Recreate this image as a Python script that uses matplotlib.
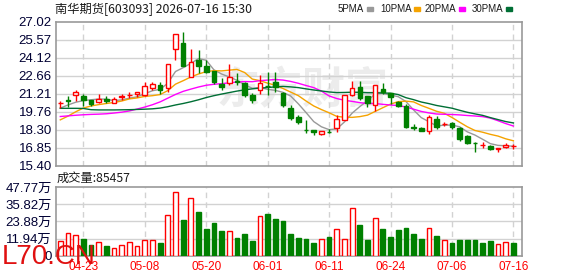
import matplotlib
matplotlib.use('Agg')
import matplotlib.pyplot as plt
import numpy as np

# ---------------- data ----------------
tick_pos = [3, 11, 19, 27, 35, 43, 51, 59]
tick_labels = ['04-23', '05-08', '05-20', '06-01', '06-11', '06-24', '07-06', '07-16']

opens = [20.45, 20.68, 21.08, 21.05, 20.67, 20.51, 20.78, 20.45, 20.96, 21.07,
         21.21, 21.13, 21.64, 21.94, 21.67, 24.83, 25.27, 22.55, 23.91, 23.42,
         23.02, 22.02, 22.05, 22.20, 22.05, 21.10, 21.51, 21.85, 22.18, 21.24,
         20.05, 19.29, 18.30, 18.30, 17.94, 18.12, 18.43, 19.10, 21.10, 21.75,
         21.02, 20.32, 21.62, 21.24, 20.55, 20.18, 18.51, 18.48, 18.24, 19.19,
         18.78, 18.83, 18.43, 17.81, 17.24, 17.08, 17.03, 16.78, 16.94, 16.97]
highs = [20.64, 21.05, 21.53, 21.21, 20.72, 21.21, 20.99, 20.97, 21.21, 21.37,
         21.37, 22.13, 22.18, 22.18, 23.61, 25.99, 26.15, 24.81, 24.70, 23.96,
         23.02, 22.48, 23.61, 22.86, 22.18, 21.24, 22.75, 22.96, 22.99, 21.37,
         20.32, 19.51, 19.05, 18.30, 18.19, 18.38, 19.51, 21.08, 22.26, 22.26,
         21.02, 21.91, 22.05, 21.29, 20.65, 20.40, 18.78, 18.51, 19.51, 19.38,
         18.94, 18.89, 18.51, 17.89, 17.35, 17.35, 17.08, 16.86, 17.21, 17.16]
lows = [20.05, 20.13, 20.60, 20.24, 20.18, 20.45, 20.45, 20.45, 20.72, 20.86,
        20.94, 21.05, 21.48, 21.21, 21.32, 23.91, 23.41, 22.55, 22.88, 22.88,
        21.99, 21.53, 21.91, 21.95, 20.97, 20.43, 21.20, 21.10, 21.37, 20.16,
        19.10, 18.78, 18.02, 17.89, 17.86, 18.02, 18.08, 19.05, 20.99, 20.72,
        20.13, 19.78, 21.21, 20.38, 20.10, 18.46, 18.30, 18.16, 17.97, 18.38,
        18.62, 18.40, 17.43, 17.16, 16.54, 16.80, 16.67, 16.48, 16.80, 16.78]
closes = [20.48, 20.65, 21.37, 20.72, 20.40, 20.78, 20.59, 20.78, 21.00, 21.10,
          21.32, 21.86, 21.99, 21.53, 23.61, 25.99, 23.41, 23.78, 23.42, 22.94,
          22.13, 21.72, 22.58, 22.13, 21.10, 20.70, 22.05, 21.80, 21.75, 20.30,
          19.22, 18.89, 18.28, 18.10, 18.19, 18.10, 19.16, 21.08, 21.67, 20.86,
          20.45, 21.91, 21.32, 20.97, 20.20, 18.51, 18.48, 18.24, 19.32, 18.51,
          18.80, 18.51, 17.54, 17.27, 17.21, 17.10, 16.78, 16.86, 17.10, 16.99]

ma5 = [20.05, 20.30, 20.52, 20.65, 20.72, 20.78, 20.77, 20.65, 20.71, 20.85,
       20.96, 21.21, 21.45, 21.56, 22.06, 23.00, 23.31, 23.66, 24.04, 23.91,
       23.14, 22.80, 22.56, 22.30, 21.93, 21.65, 21.71, 21.56, 21.48, 21.32,
       21.02, 20.39, 19.69, 18.96, 18.54, 18.31, 18.37, 18.93, 19.64, 20.17,
       20.64, 21.19, 21.24, 21.10, 20.97, 20.58, 19.90, 19.28, 18.95, 18.61,
       18.67, 18.68, 18.54, 18.13, 17.87, 17.53, 17.18, 17.04, 17.01, 16.97]
ma10 = [19.10, 19.40, 19.75, 20.05, 20.22, 20.33, 20.42, 20.50, 20.62, 20.79,
        20.87, 20.99, 21.05, 21.14, 21.46, 21.98, 22.26, 22.56, 22.80, 22.99,
        23.07, 23.05, 23.11, 23.17, 22.92, 22.39, 22.26, 22.06, 21.89, 21.63,
        21.34, 21.05, 20.62, 20.22, 19.93, 19.67, 19.38, 19.31, 19.30, 19.36,
        19.48, 19.78, 20.08, 20.37, 20.57, 20.61, 20.55, 20.26, 20.03, 19.79,
        19.63, 19.29, 18.91, 18.54, 18.24, 18.10, 17.93, 17.79, 17.57, 17.41]
ma20 = [19.37, 19.42, 19.47, 19.51, 19.54, 19.56, 19.59, 19.65, 19.72, 19.82,
        19.97, 20.13, 20.32, 20.55, 20.85, 21.15, 21.40, 21.58, 21.75, 21.89,
        21.97, 22.02, 22.08, 22.15, 22.19, 22.18, 22.26, 22.31, 22.35, 22.31,
        22.20, 22.05, 21.87, 21.70, 21.42, 21.03, 20.82, 20.68, 20.59, 20.49,
        20.41, 20.42, 20.35, 20.30, 20.25, 20.14, 19.96, 19.78, 19.66, 19.57,
        19.55, 19.53, 19.50, 19.45, 19.41, 19.36, 19.24, 19.03, 18.80, 18.60]
ma30 = [20.03, 20.03, 20.03, 20.02, 19.92, 19.90, 19.90, 19.90, 19.91, 19.92,
        19.94, 19.96, 19.99, 20.05, 20.16, 20.30, 20.42, 20.56, 20.72, 20.90,
        21.05, 21.18, 21.30, 21.42, 21.52, 21.60, 21.66, 21.71, 21.76, 21.80,
        21.76, 21.70, 21.60, 21.51, 21.43, 21.35, 21.30, 21.31, 21.33, 21.32,
        21.29, 21.29, 21.27, 21.25, 21.14, 20.89, 20.73, 20.54, 20.41, 20.26,
        20.15, 20.04, 19.87, 19.71, 19.58, 19.46, 19.28, 19.12, 18.96, 18.85]

volumes = [10.1, 16.1, 14.2, 11.5, 7.3, 9.2, 6.7, 5.1, 7.1, 9.2,
           6.7, 10.6, 10.6, 8.7, 28.5, 44.5, 24.6, 40.4, 30.1, 18.6,
           22.5, 17.0, 17.0, 12.4, 14.9, 10.1, 27.3, 28.7, 25.5, 23.9,
           14.9, 12.4, 11.5, 8.7, 11.5, 12.9, 18.4, 11.5, 33.5, 21.1,
           10.8, 25.9, 18.4, 12.9, 17.7, 19.1, 14.9, 11.5, 19.1, 13.5,
           10.6, 8.7, 10.8, 10.8, 10.8, 8.7, 10.1, 8.0, 9.4, 8.55]  # 万

price_ticks = [15.40, 16.85, 18.30, 19.76, 21.21, 22.66, 24.12, 25.57, 27.02]
vol_ticks = [0, 11.94, 23.88, 35.82, 47.77]
vol_tick_labels = ['0', '11.94万', '23.88万', '35.82万', '47.77万']

title = '南华期货[603093] 2026-07-16 15:30'
vol_title = '成交量:85457'
legend_names = ['5PMA', '10PMA', '20PMA', '30PMA']

# ---------------- style ----------------
RED = '#ff0000'
GREEN = '#008000'
MA_COLORS = ['#999999', '#f5a300', '#ff00ff', '#006f35']
GRID = '#d2d2d2'
FRAME = '#999999'
LABEL = '#000033'
CJK = ['Noto Sans CJK SC', 'DejaVu Sans']
LAT = ['Liberation Sans', 'Noto Sans CJK SC']

W, H = 578, 276
fig = plt.figure(figsize=(W / 100, H / 100), dpi=100)
fig.patch.set_facecolor('white')

x0, x1 = 56, 522
ax = fig.add_axes([x0 / W, 1 - 165.7 / H, (x1 - x0) / W, 144 / H])
axv = fig.add_axes([x0 / W, 1 - 255.7 / H, (x1 - x0) / W, 68.7 / H])

n = len(closes)
x = np.arange(n)
o = np.array(opens); c = np.array(closes); h = np.array(highs); l = np.array(lows)
up = c >= o
w = 0.6

# watermark
ax.text(0.53, 0.52, '东方财富', transform=ax.transAxes, fontsize=31,
        color='#ececec', ha='center', va='center', fontweight='bold',
        family=CJK, zorder=0.5)

# grid
for p in tick_pos:
    ax.axvline(p, color=GRID, ls=(0, (4, 3)), lw=1, zorder=1)
    axv.axvline(p, color=GRID, ls=(0, (4, 3)), lw=1, zorder=1)
for t in price_ticks[1:-1]:
    ax.axhline(t, color=GRID, lw=1, zorder=1)
for t in vol_ticks[1:-1]:
    axv.axhline(t, color=GRID, lw=1, zorder=1)

# MA lines
for ma, col in zip([ma5, ma10, ma20, ma30], MA_COLORS):
    ax.plot(x, ma, color=col, lw=1, zorder=2)

# candles
cols = np.where(up, RED, GREEN)
ax.vlines(x, l, h, colors=cols, lw=1, zorder=3)
body_bottom = np.minimum(o, c)
body_h = np.maximum(np.abs(c - o), 0.001)
faces = np.where(up, 'white', GREEN)
ax.bar(x, body_h, bottom=body_bottom, width=w, color=faces,
       edgecolor=cols, linewidth=1, zorder=4)

ax.set_xlim(-0.56, 60.12)
ax.set_ylim(15.40, 27.02)
ax.set_xticks([])
ax.set_yticks(price_ticks)
ax.set_yticklabels([f'{t:.2f}' for t in price_ticks], family=LAT,
                   fontsize=9.5, color=LABEL)
ax.tick_params(axis='y', length=0, pad=3)

# volume
prev = np.concatenate([[c[0] - 1], c[:-1]])
vup = c >= prev
vcols = np.where(vup, RED, GREEN)
vfaces = np.where(vup, 'white', GREEN)
axv.bar(x, volumes, width=0.62, color=vfaces, edgecolor=vcols,
        linewidth=1, zorder=3)
axv.set_xlim(-0.56, 60.12)
axv.set_ylim(0, 47.77)
axv.set_yticks(vol_ticks)
axv.set_yticklabels(vol_tick_labels, family=LAT, fontsize=9.5, color=LABEL)
axv.set_xticks(tick_pos)
axv.set_xticklabels(tick_labels, family=LAT, fontsize=8.5, color=RED)
axv.tick_params(axis='both', length=0)
axv.tick_params(axis='y', pad=3)
axv.tick_params(axis='x', pad=4)

for a in (ax, axv):
    for s in a.spines.values():
        s.set_color(FRAME)
        s.set_linewidth(1.2)

# texts
fig.text(55 / W, 1 - 9 / H, title, family=CJK, fontsize=8.8,
         color='#1a1a1a', va='center', ha='left')
fig.text(57 / W, 1 - 178 / H, vol_title, family=CJK, fontsize=8.8,
         color='#1a1a1a', va='center', ha='left')

# legend
leg_x = [338, 380, 425, 472]
fig.canvas.draw()
r = fig.canvas.get_renderer()
for name, col, lx in zip(legend_names, MA_COLORS, leg_x):
    t = fig.text(lx / W, 1 - 9 / H, name, family=LAT, fontsize=7,
                 color='#1a1a1a', va='center', ha='left')
    bb = t.get_window_extent(r)
    fig.add_artist(plt.Rectangle(((bb.x1 + 2.5) / W, (H - 10.5) / H), 6 / W, 3.5 / H,
                                 transform=fig.transFigure, color=col))

# site mark
fig.text(2 / W, 1 - 264 / H, 'L70.CN', family=LAT, fontsize=20,
         color='#e01010', va='baseline', ha='left', zorder=10)

fig.savefig('out.png', dpi=100, facecolor='white')
